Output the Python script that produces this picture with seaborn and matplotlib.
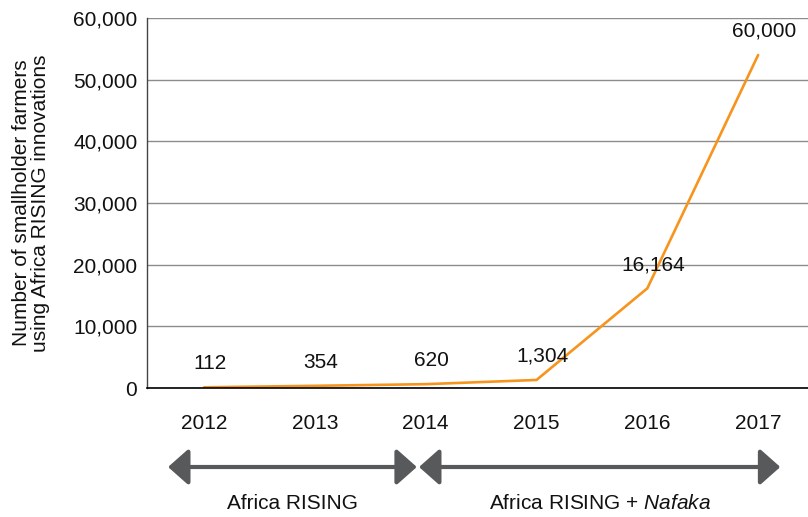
import matplotlib
matplotlib.use("Agg")
import matplotlib.pyplot as plt
import seaborn as sns
import pandas as pd

years = ["2012", "2013", "2014", "2015", "2016", "2017"]
farmers = [112, 354, 620, 1304, 16164, 54000]
value_labels = ["112", "354", "620", "1,304", "16,164", "60,000"]
y_ticks = [0, 10000, 20000, 30000, 40000, 50000, 60000]
y_tick_labels = ["0", "10,000", "20,000", "30,000", "40,000", "50,000", "60,000"]
phase_names = ["Africa RISING", "Africa RISING + "]
phase_italic = "Nafaka"

sns.set_theme(style="white")
plt.rcParams["font.family"] = ["Liberation Sans", "DejaVu Sans"]
plt.rcParams["mathtext.fontset"] = "custom"
plt.rcParams["mathtext.it"] = "Liberation Sans:italic"
plt.rcParams["mathtext.rm"] = "Liberation Sans"

FS = 15

df = pd.DataFrame({"year": years, "farmers": farmers})

fig = plt.figure(figsize=(8.08, 5.17), dpi=100)
ax = fig.add_axes([147 / 808, 129 / 517, 661 / 808, 370 / 517])

sns.lineplot(data=df, x="year", y="farmers", ax=ax, color="#F7941D", lw=1.9)

ax.set_xlim(-0.515, 5.45)
ax.set_ylim(0, 60000)
ax.set_yticks(y_ticks)
ax.set_yticklabels(y_tick_labels)
ax.yaxis.grid(True, color="#8c8c8c", lw=1.0)
ax.xaxis.grid(False)
ax.set_axisbelow(True)
ax.tick_params(axis="y", length=0, pad=7, labelsize=FS, colors="#111111")
ax.tick_params(axis="x", length=0, pad=19, labelsize=FS, colors="#111111")
ax.set_xlabel("")
ax.set_ylabel("Number of smallholder farmers\nusing Africa RISING innovations",
              fontsize=FS, color="#111111", linespacing=1.0)
ax.yaxis.set_label_coords(-0.147, 0.5)

for s in ["top", "right"]:
    ax.spines[s].set_visible(False)
ax.spines["left"].set_color("#444444")
ax.spines["left"].set_linewidth(1.0)
ax.spines["bottom"].set_color("#000000")
ax.spines["bottom"].set_linewidth(1.2)

for i, (v, lab) in enumerate(zip(farmers, value_labels)):
    ax.annotate(lab, xy=(i, v), xytext=(4, 17), textcoords="offset points",
                ha="center", va="center", fontsize=FS, color="#111111")

trans = ax.get_xaxis_transform()
arrow_y = -0.2135
arrow_props = dict(arrowstyle="<|-|>,head_length=0.62,head_width=0.55",
                   lw=3, color="#58595b", shrinkA=0, shrinkB=0,
                   mutation_scale=20)
ax.annotate("", xy=(1.92, arrow_y), xytext=(-0.325, arrow_y), xycoords=trans,
            textcoords=trans, arrowprops=arrow_props, annotation_clip=False)
ax.annotate("", xy=(5.2, arrow_y), xytext=(1.94, arrow_y), xycoords=trans,
            textcoords=trans, arrowprops=arrow_props, annotation_clip=False)

label_y = -0.311
ax.text(0.8, label_y, phase_names[0], transform=trans, ha="center", va="center",
        fontsize=FS, color="#111111")
ax.text(3.57, label_y, phase_names[1] + "$\\it{" + phase_italic + "}$",
        transform=trans, ha="center", va="center", fontsize=FS, color="#111111")

fig.savefig("out.png", dpi=100)
